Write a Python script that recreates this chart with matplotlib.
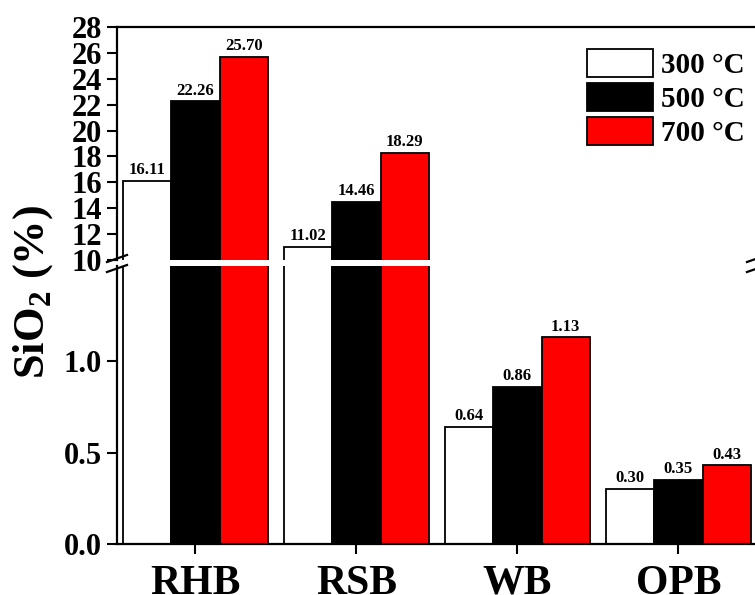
import matplotlib.pyplot as plt
import numpy as np
from matplotlib.lines import Line2D
from matplotlib.patches import Patch

plt.rcParams['font.family'] = 'Liberation Serif'
plt.rcParams['font.weight'] = 'bold'
plt.rcParams['mathtext.fontset'] = 'custom'
plt.rcParams['mathtext.rm'] = 'Liberation Serif:bold'
plt.rcParams['mathtext.bf'] = 'Liberation Serif:bold'

categories = ['RHB', 'RSB', 'WB', 'OPB']
temps = ['300 °C', '500 °C', '700 °C']
v300 = [16.11, 11.02, 0.64, 0.30]
v500 = [22.26, 14.46, 0.86, 0.35]
v700 = [25.70, 18.29, 1.13, 0.43]
series = [v300, v500, v700]
colors = ['white', 'black', 'red']

W, H = 755, 595
fig = plt.figure(figsize=(W / 100, H / 100), dpi=100)
# two axes for the broken y axis (pixel layout)
ax_top = fig.add_axes([117 / W, 1 - 260 / H, 640 / W, 233 / H])
ax_bot = fig.add_axes([117 / W, 51 / H, 640 / W, 278 / H])

x = np.arange(len(categories))
w = 0.30
for i, vals in enumerate(series):
    xs = x + (i - 1) * w
    for ax in (ax_top, ax_bot):
        ax.bar(xs, vals, w, color=colors[i], edgecolor='black', linewidth=1.3, zorder=2)
    for xx, v in zip(xs, vals):
        ax = ax_top if v >= 10 else ax_bot
        ax.annotate(f'{v:.2f}', (xx, v), xytext=(0, 2), textcoords='offset points',
                    ha='center', va='bottom', fontsize=12, fontweight='bold')

xl = (-0.487, -0.487 + 640 / 161)
ax_top.set_xlim(*xl)
ax_bot.set_xlim(*xl)
ax_top.set_ylim(10, 28)
ax_top.set_yticks(range(10, 29, 2))
ax_bot.set_ylim(0, 1.52)
ax_bot.set_yticks([0.0, 0.5, 1.0])
ax_bot.set_yticklabels(['0.0', '0.5', '1.0'])

ax_top.spines['bottom'].set_visible(False)
ax_bot.spines['top'].set_visible(False)
for ax in (ax_top, ax_bot):
    for s in ax.spines.values():
        s.set_linewidth(1.6)
    ax.tick_params(axis='y', direction='out', length=7, width=1.5, labelsize=22, pad=4)
ax_top.set_xticks([])
ax_bot.set_xticks(x)
ax_bot.set_xticklabels(categories)
ax_bot.tick_params(axis='x', direction='out', length=7, width=1.5, labelsize=30, pad=8)

fig.text(33 / W, 1 - 292 / H, r'SiO$_\mathbf{2}$ (%)', rotation=90, fontsize=32,
         ha='center', va='center', fontweight='bold')

# break marks
def brk(xc, yc):
    fig.add_artist(Line2D([(xc - 10) / W, (xc + 10) / W], [1 - (yc + 4) / H, 1 - (yc - 3) / H],
                          color='black', linewidth=1.6))

for xc in (117, 757):
    brk(xc, 258)
    brk(xc, 268)

handles = [Patch(facecolor=c, edgecolor='black', linewidth=1.3) for c in colors]
fig.legend(handles, temps, loc='upper left', bbox_to_anchor=(587 / W, 1 - 49 / H),
           bbox_transform=fig.transFigure, frameon=False, fontsize=21, borderpad=0,
           borderaxespad=0, handlelength=2.25, handleheight=1.1, labelspacing=0.14,
           handletextpad=0.28)

fig.savefig('out.png', dpi=100)
